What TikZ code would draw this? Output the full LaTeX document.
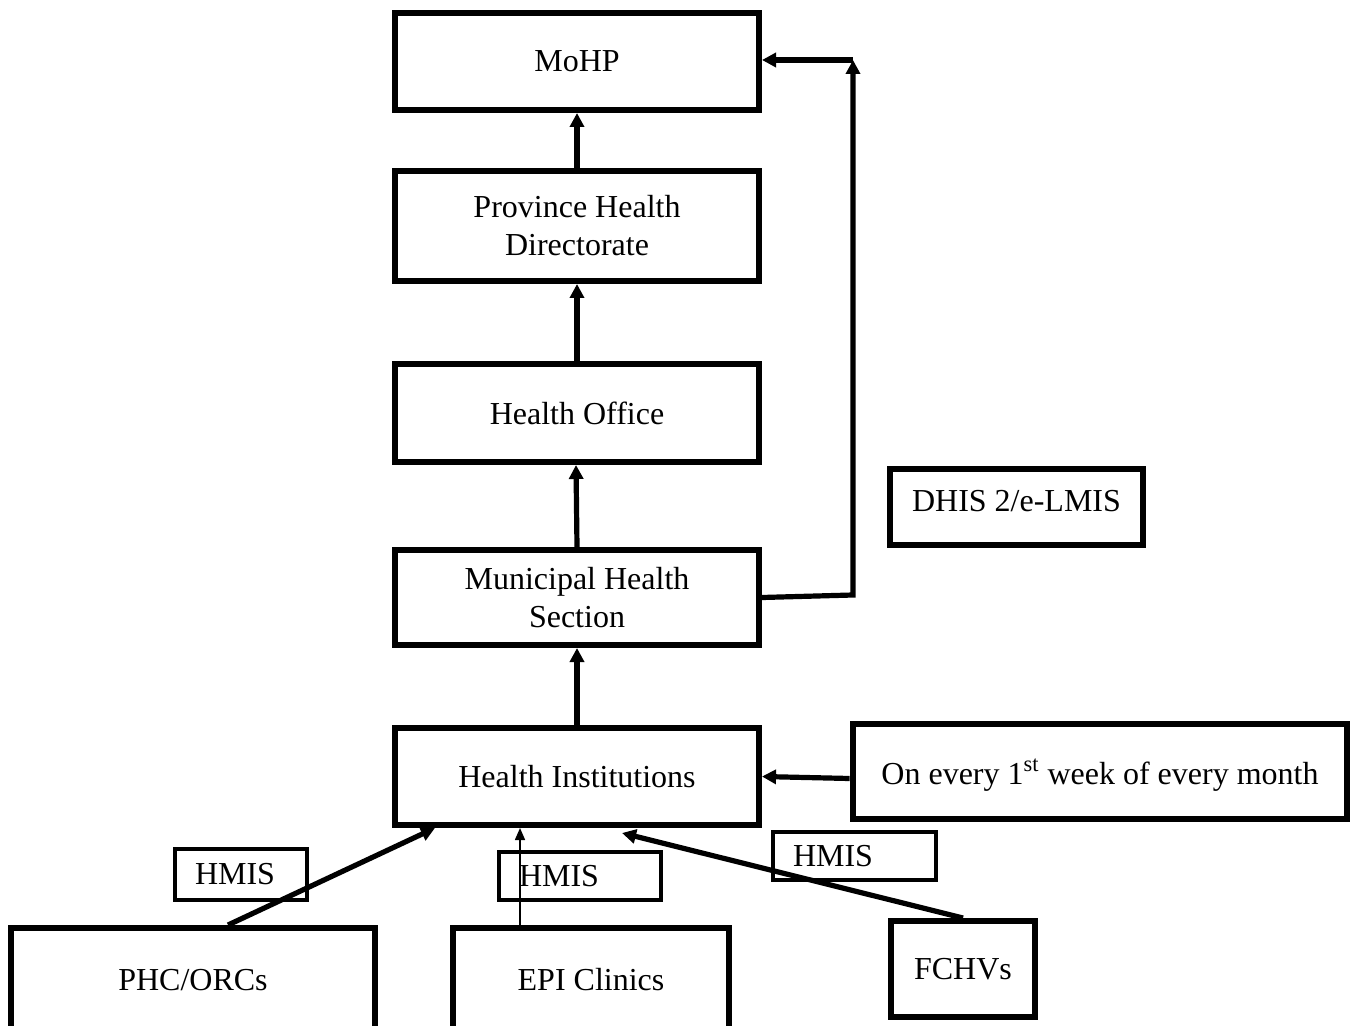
\documentclass[tikz,border=0pt]{standalone}
\usepackage{fontspec}
\setmainfont{Liberation Serif}
\usetikzlibrary{arrows.meta,calc}
\begin{document}
\begin{tikzpicture}[x=0.5pt,y=-0.5pt,
  box/.style={draw,line width=3pt,inner sep=0pt,align=center,font=\fontsize{16}{19}\selectfont},
  tag/.style={draw,line width=2.4pt,inner ysep=0pt,inner xsep=10pt,align=left,font=\fontsize{16}{19}\selectfont},
  flow/.style={line width=2.6pt,-{Triangle[length=7pt,width=7pt]}},
  thinflow/.style={line width=0.8pt,-{Triangle[length=6pt,width=5pt]}}]
\clip (0,0) rectangle (1359,1026);
\fill[white] (0,0) rectangle (1359,1026);
% main column
\node[box,minimum width=182pt,minimum height=48.5pt] (mohp) at (577,61.5) {MoHP};
\node[box,minimum width=182pt,minimum height=55pt] (phd) at (577,226) {Province Health\\Directorate};
\node[box,minimum width=182pt,minimum height=49pt] (ho) at (577,413) {Health Office};
\node[box,minimum width=182pt,minimum height=47.5pt] (mhs) at (577,597.5) {Municipal Health\\Section};
\node[box,minimum width=182pt,minimum height=48.5pt] (hi) at (577,776.5) {Health Institutions};
% side boxes
\node[box,line width=2.6pt,minimum width=126.5pt,minimum height=38pt,text depth=6pt] (dhis) at (1016.5,507) {DHIS 2/e-LMIS};
\node[box,line width=3.4pt,minimum width=247pt,minimum height=47.5pt,text depth=0pt] (oe) at (1100,771.5) {On every 1\textsuperscript{st} week of every month};
% HMIS tags
\node[tag,text width=46pt,minimum height=25.5pt] (h1) at (241,874.5) {HMIS};
\node[tag,text width=61pt,minimum height=24pt] (h2) at (580,876) {HMIS};
\node[tag,text width=61.5pt,minimum height=24pt] (h3) at (854.5,856) {HMIS};
% sources
\node[box,minimum width=182pt,minimum height=52pt] (phc) at (193,980) {PHC/ORCs};
\node[box,minimum width=138pt,minimum height=52pt] (epi) at (591,980) {EPI Clinics};
\node[box,minimum width=72pt,minimum height=48pt] (fchv) at (963,969) {FCHVs};
% vertical flow
\draw[flow] (phd.north) -- (mohp.south);
\draw[flow] (ho.north) -- (phd.south);
\draw[flow] (mhs.north) -- ($(ho.south)+(-1,0)$);
\draw[flow] (hi.north) -- (mhs.south);
% bypass to MoHP
\coordinate (bend) at (853,595);
\coordinate (topc) at (853,60);
\draw[flow] (mhs.east) -- (bend) -- (topc);
\draw[flow] (topc) -- ($(mohp.east)+(0,-1.5)$);
% schedule
\draw[flow] ($(oe.west)+(0,7)$) -- (hi.east);
% sources to institutions
\draw[flow] ($(phc.north)+(35,0)$) -- ($(hi.south)+(-142,0)$);
\draw[thinflow] ($(epi.north)+(-71,0)$) -- ($(hi.south)+(-57,0)$);
\draw[flow] (fchv.north) -- ($(hi.south)+(45,5)$);
\end{tikzpicture}
\end{document}
